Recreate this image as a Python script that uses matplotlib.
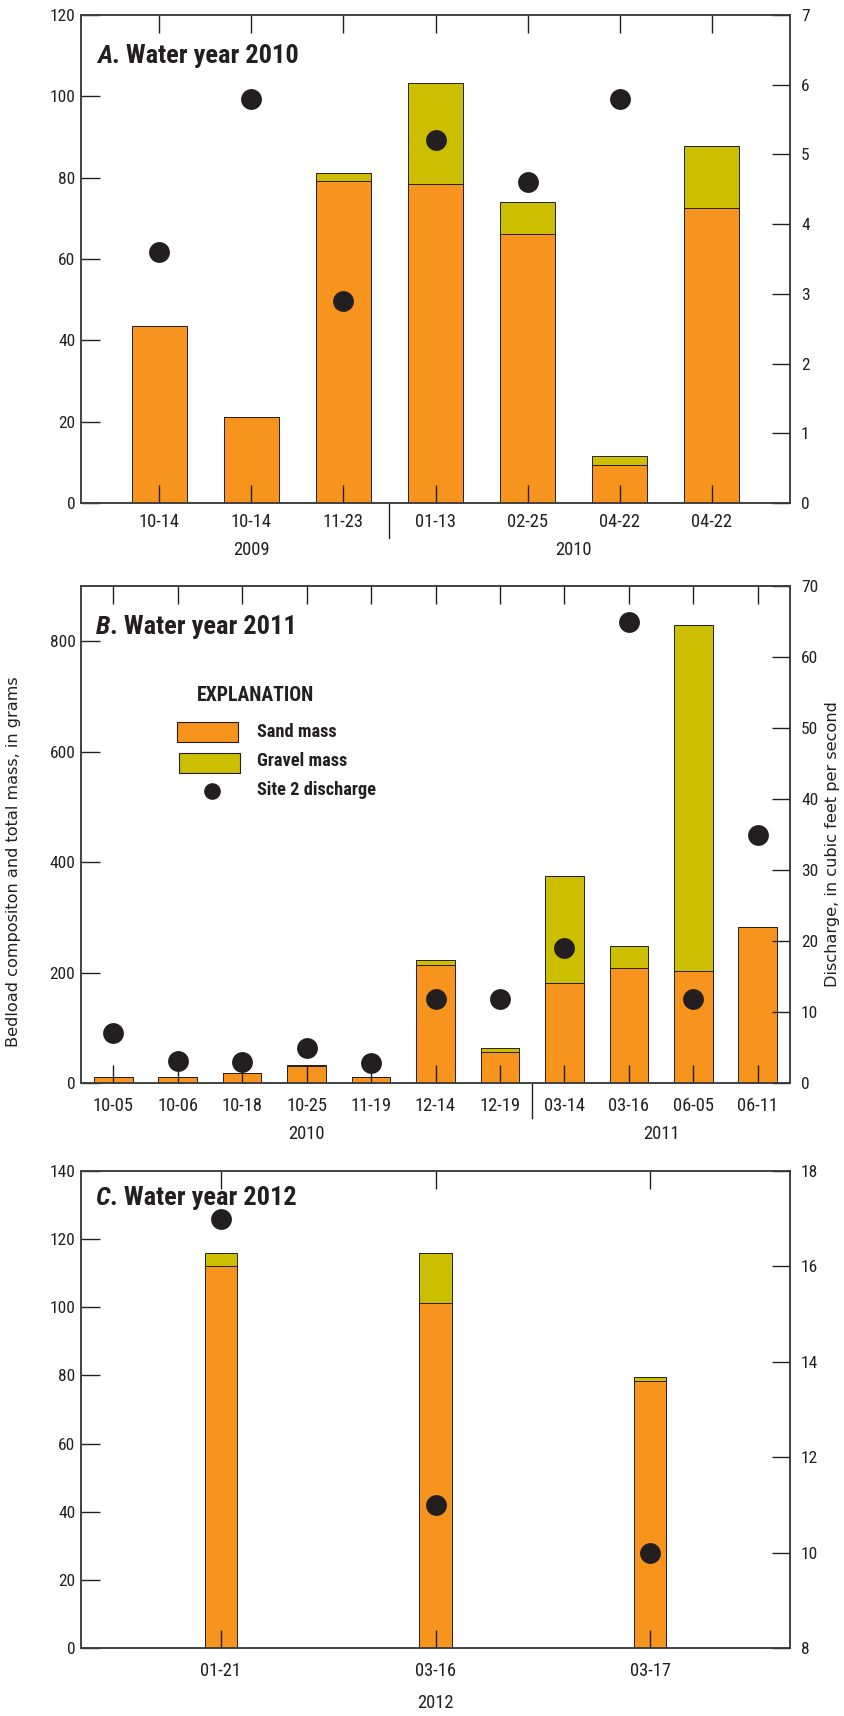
import numpy as np
import matplotlib
matplotlib.use("Agg")
import matplotlib.pyplot as plt
from matplotlib import font_manager as fm
from matplotlib.transforms import blended_transform_factory
from matplotlib.patches import Rectangle
from matplotlib.lines import Line2D

# ---- data -------------------------------------------------------------
a_dates = ['10-14', '10-14', '11-23', '01-13', '02-25', '04-22', '04-22']
a_sand = [43.6, 21.1, 79.3, 78.4, 66.2, 9.3, 72.6]
a_gravel = [0.0, 0.0, 1.9, 24.9, 7.7, 2.2, 15.1]
a_discharge = [3.6, 5.8, 2.9, 5.2, 4.6, 5.8, np.nan]
a_years = [('2009', 0, 2), ('2010', 3, 6)]

b_dates = ['10-05', '10-06', '10-18', '10-25', '11-19', '12-14', '12-19',
           '03-14', '03-16', '06-05', '06-11']
b_sand = [10, 10, 18, 30, 11, 213, 56, 181, 208, 202, 282]
b_gravel = [0, 0, 0, 3, 0, 10, 7, 194, 40, 628, 0]
b_discharge = [7.0, 3.1, 3.0, 5.0, 2.8, 11.9, 11.9, 19.0, 65.0, 11.9, 34.9]
b_years = [('2010', 0, 6), ('2011', 7, 10)]

c_dates = ['01-21', '03-16', '03-17']
c_sand = [112.0, 101.2, 78.4]
c_gravel = [3.9, 14.7, 1.0]
c_discharge = [17.0, 11.0, 10.0]
c_years = [('2012', 0, 2)]

# ---- style ------------------------------------------------------------
SAND = '#F7941E'
GRAVEL = '#CCBE00'
INK = '#231F20'
FRAME = '#3C3C3C'

names = {f.name for f in fm.fontManager.ttflist}
COND = next((n for n in ['Liberation Sans Narrow', 'DejaVu Sans Condensed',
                         'Roboto Condensed', 'Open Sans Condensed']
             if n in names), 'Liberation Sans')
REG = 'DejaVu Sans'

W, H = 844, 1716
fig = plt.figure(figsize=(W / 100, H / 100), dpi=100)


def px_rect(l, t, r, b):
    return [l / W, 1 - b / H, (r - l) / W, (b - t) / H]


def panel(rect, dates, sand, gravel, q, years, divider, width, xpad,
          ylim, yticks, qlim, qticks, title, title_pos, date_pad, year_off):
    ax = fig.add_axes(rect)
    x = np.arange(len(dates))
    ax.bar(x, sand, width, color=SAND, edgecolor=INK, linewidth=0.7, zorder=1)
    ax.bar(x, gravel, width, bottom=sand, color=GRAVEL, edgecolor=INK,
           linewidth=0.7, zorder=1)
    ax.set_xlim(-xpad, len(dates) - 1 + xpad)
    ax.set_ylim(*ylim)
    ax.set_yticks(yticks)
    ax.set_xticks(x)
    ax.set_xticklabels(dates)
    for s in ax.spines.values():
        s.set_linewidth(1.1)
        s.set_color(FRAME)
    ax.tick_params(axis='x', direction='in', length=13, width=1.0,
                   top=True, color=INK, pad=date_pad)
    ax.tick_params(axis='y', direction='in', length=13.5, width=1.0,
                   color=INK, pad=4)
    for lab in ax.get_xticklabels():
        lab.set_fontfamily(COND)
        lab.set_fontsize(13.3)
        lab.set_color(INK)
    for lab in ax.get_yticklabels():
        lab.set_fontfamily(COND)
        lab.set_fontsize(12.5)
        lab.set_color(INK)

    ax2 = ax.twinx()
    ax2.set_ylim(*qlim)
    ax2.set_yticks(qticks)
    ax2.plot(x, q, 'o', color=INK, markersize=15, markeredgewidth=0,
             clip_on=False, zorder=5)
    ax2.tick_params(axis='y', direction='in', length=13, width=1.0,
                    color=INK, pad=8)
    for s in ax2.spines.values():
        s.set_linewidth(1.1)
        s.set_color(FRAME)
    for lab in ax2.get_yticklabels():
        lab.set_fontfamily(COND)
        lab.set_fontsize(12.5)
        lab.set_color(INK)

    tr = blended_transform_factory(ax.transData, ax.transAxes)
    if divider is not None:
        ax.plot([divider, divider], [0, -35 / (rect[3] * H)], transform=tr,
                color=INK, linewidth=1.0, clip_on=False)
    for name, i0, i1 in years:
        ax.annotate(name, xy=((i0 + i1) / 2, 0), xycoords=tr,
                    xytext=(0, -year_off), textcoords='offset pixels',
                    ha='center', va='center', fontfamily=COND,
                    fontsize=13.3, color=INK)

    letter, rest = title
    t1 = ax.text(title_pos[0], title_pos[1], letter, transform=ax.transAxes,
                 fontfamily=COND, fontweight='bold', fontstyle='italic',
                 fontsize=19, color=INK, va='baseline', ha='left', zorder=6)
    ax.annotate(rest, xy=(1, 0), xycoords=t1, va='bottom', ha='left',
                fontfamily=COND, fontweight='bold', fontsize=19, color=INK,
                zorder=6)
    return ax, ax2


panel(px_rect(81, 15, 790, 503), a_dates, a_sand, a_gravel, a_discharge,
      a_years, 2.5, 0.6, 0.85, (0, 120), np.arange(0, 121, 20),
      (0, 7), np.arange(0, 8, 1), ('A', '. Water year 2010'),
      (0.0226, 0.9016), 7, 47)

panel(px_rect(81, 586, 790, 1083), b_dates, b_sand, b_gravel,
      b_discharge, b_years, 6.5, 0.6, 0.5, (0, 900),
      np.arange(0, 801, 200), (0, 70), np.arange(0, 71, 10),
      ('B', '. Water year 2011'), (0.021, 0.9034), 10, 51)

panel(px_rect(81, 1171, 790, 1648), c_dates, c_sand, c_gravel, c_discharge,
      c_years, None, 0.15, 0.65, (0, 140), np.arange(0, 141, 20),
      (8, 18), np.arange(8, 19, 2), ('C', '. Water year 2012'),
      (0.0197, 0.9287), 10, 55)

# ---- explanation ------------------------------------------------------
def fx(x):
    return x / W


def fy(y):
    return 1 - y / H


fig.text(fx(197), fy(701), 'EXPLANATION', fontfamily=COND,
         fontweight='bold', fontsize=14.2, color=INK, va='baseline')
fig.patches.append(Rectangle((fx(177), fy(742)), fx(238) - fx(177),
                             fy(722) - fy(742), transform=fig.transFigure,
                             facecolor=SAND, edgecolor=INK, linewidth=0.8))
fig.patches.append(Rectangle((fx(179), fy(773)), fx(240) - fx(179),
                             fy(753) - fy(773), transform=fig.transFigure,
                             facecolor=GRAVEL, edgecolor=INK, linewidth=0.8))
fig.lines.append(Line2D([fx(212)], [fy(791)], marker='o', markersize=12,
                        color=INK, markeredgewidth=0,
                        transform=fig.transFigure))
for label, yc in [('Sand mass', 732), ('Gravel mass', 761),
                  ('Site 2 discharge', 790)]:
    fig.text(fx(257), fy(yc), label, fontfamily=COND, fontweight='bold',
             fontsize=13.2, color=INK, va='center')

# ---- axis titles ------------------------------------------------------
fig.text(fx(14), fy(862), 'Bedload compositon and total mass, in grams',
         rotation=90, ha='center', va='center', fontfamily=REG,
         fontsize=11.6, color=INK)
fig.text(fx(833), fy(844), 'Discharge, in cubic feet per second',
         rotation=90, ha='center', va='center', fontfamily=REG,
         fontsize=11.6, color=INK)

fig.savefig('out.png', dpi=100)
